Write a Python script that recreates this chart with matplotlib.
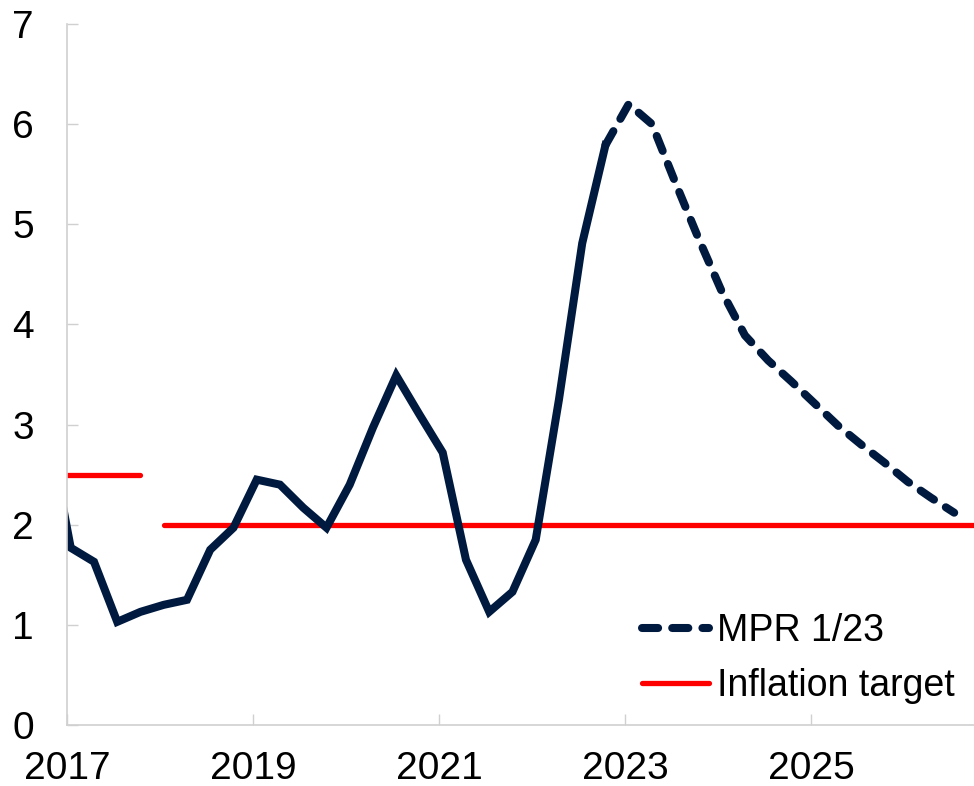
import matplotlib
import matplotlib.pyplot as plt
import numpy as np
import pandas as pd

matplotlib.use("Agg")

# quarterly observations, 2016Q4 - 2022Q4
hist_quarters = pd.period_range("2016Q4", "2022Q4", freq="Q")
hist_values = [3.00,
               1.77, 1.63, 1.03, 1.13,
               1.20, 1.25, 1.75, 1.97,
               2.45, 2.40, 2.17, 1.97,
               2.40, 2.97, 3.49, 3.10,
               2.72, 1.65, 1.13, 1.33,
               1.85, 3.25, 4.81, 5.79]

# MPR 1/23 projection, 2022Q4 - 2026Q3
proj_quarters = pd.period_range("2022Q4", "2026Q3", freq="Q")
proj_values = [5.79,
               6.20, 6.00, 5.42, 4.86,
               4.33, 3.89, 3.64, 3.43,
               3.21, 2.99, 2.80, 2.62,
               2.43, 2.27, 2.12]

# inflation target: 2.5 until 2017, 2 from 2018
target_old_quarters = pd.period_range("2016Q4", "2017Q4", freq="Q")
target_old = [2.5, 2.5, 2.5, 2.5, 2.5]
target_new_quarters = pd.period_range("2018Q1", "2026Q4", freq="Q")
target_new = [2.0] * len(target_new_quarters)

year_ticks = [2017, 2019, 2021, 2023, 2025]

NAVY = "#001a3f"
RED = "#ff0000"
GREY = "#d0d0d0"
FONT = ["Liberation Sans", "DejaVu Sans"]


def to_year(quarters):
    # points sit in the middle of the first month of each quarter
    return quarters.year + (quarters.quarter - 1) / 4 + 0.04


fig = plt.figure(figsize=(9.74, 7.86), dpi=100)
ax = fig.add_axes([0.0688, 0.0776, 0.9312, 0.8919])

ax.plot(to_year(target_old_quarters), target_old, color=RED, lw=3.8,
        solid_capstyle="round")
target_line, = ax.plot(to_year(target_new_quarters), target_new, color=RED, lw=3.8,
                       solid_capstyle="round", label="Inflation target")

ax.plot(to_year(hist_quarters), hist_values, color=NAVY, lw=5.8,
        solid_joinstyle="miter")
proj_line, = ax.plot(to_year(proj_quarters), proj_values, color=NAVY, lw=5.8,
                     dashes=(2.0, 1.75), dash_capstyle="round", label="MPR 1/23")

ax.set_xlim(2017, 2026.753)
ax.set_ylim(0, 7)

ax.set_xticks(year_ticks)
ax.set_xticklabels([str(y) for y in year_ticks])
ax.set_yticks(range(0, 8))

for side in ("top", "right"):
    ax.spines[side].set_visible(False)
for side in ("left", "bottom"):
    ax.spines[side].set_color(GREY)
    ax.spines[side].set_linewidth(1.2)

ax.tick_params(axis="both", direction="in", length=8, width=1.0, color=GREY)
ax.tick_params(axis="x", pad=19)
ax.tick_params(axis="y", pad=24)
for label in ax.get_xticklabels() + ax.get_yticklabels():
    label.set_fontfamily(FONT)
    label.set_fontsize(28)

ax.legend([proj_line, target_line], ["MPR 1/23", "Inflation target"], loc="lower right",
          bbox_to_anchor=(0.995, 0.009), frameon=False,
          prop={"family": FONT, "size": 27},
          handlelength=1.8, handletextpad=0.2, labelspacing=0.5, borderaxespad=0)

fig.savefig("out.png", dpi=100)
plt.close(fig)
